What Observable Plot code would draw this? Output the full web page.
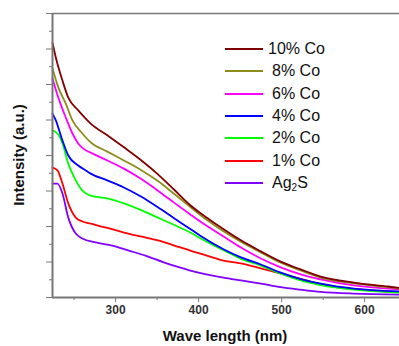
<!DOCTYPE html>
<html><head><meta charset="utf-8">
<script src="https://cdn.jsdelivr.net/npm/d3@7"></script>
<script src="https://cdn.jsdelivr.net/npm/@observablehq/plot@0.6"></script>
<style>
body{margin:0;background:#fff;font-family:"Liberation Sans",Arial,sans-serif;}
#wrap{position:relative;width:399px;height:346px;overflow:hidden;}
#wrap svg{position:absolute;left:0;top:0;}
.ttl{position:absolute;font-weight:bold;font-size:15px;color:#111;white-space:nowrap;}
#legend{position:absolute;left:225px;top:38px;}
.row{position:absolute;white-space:nowrap;font-size:16px;color:#111;}
.row svg{position:absolute;left:0;top:0;}
</style>
</head><body>
<div id="wrap"></div>
<script>
// Series names and colours
const seriesNames = ["10% Co", "8% Co", "6% Co", "4% Co", "2% Co", "1% Co", "Ag2S"];
const seriesColors = ["#800000", "#8c8c1a", "#ff00ff", "#0000ff", "#00ff00", "#ff0000", "#8000ff"];

// [wavelength (nm), intensity (a.u.)]
const co10 = [[224,7.18],[228,6.76],[236,6.11],[243,5.63],[255,5.27],[264,5.04],[270,4.90],[290,4.57],[310,4.23],[330,3.88],[351,3.47],[370,3.05],[390,2.60],[402,2.38],[427,1.97],[451,1.61],[475,1.30],[499,1.01],[523,0.79],[547,0.59],[587,0.42],[628,0.31],[642,0.27]];
const co8  = [[224,6.45],[231,5.92],[240,5.46],[248,4.99],[260,4.62],[270,4.37],[290,4.11],[310,3.86],[330,3.60],[351,3.28],[370,2.93],[390,2.55],[402,2.32],[427,1.91],[451,1.57],[475,1.27],[499,0.98],[523,0.76],[547,0.56],[587,0.40],[628,0.29],[642,0.25]];
const co6  = [[224,6.17],[231,5.63],[240,5.07],[248,4.62],[255,4.34],[262,4.18],[270,4.08],[290,3.86],[310,3.63],[330,3.35],[351,3.01],[370,2.68],[390,2.34],[402,2.14],[430,1.72],[451,1.41],[475,1.10],[499,0.85],[523,0.65],[547,0.51],[587,0.34],[642,0.23]];
const co4  = [[224,5.18],[228,4.99],[236,4.42],[243,4.00],[255,3.72],[264,3.58],[270,3.49],[290,3.30],[310,3.10],[330,2.85],[351,2.54],[370,2.24],[390,1.93],[402,1.74],[430,1.36],[451,1.13],[475,0.93],[499,0.70],[523,0.52],[547,0.39],[587,0.25],[642,0.17]];
const co2  = [[224,4.70],[230,4.62],[236,4.34],[243,3.77],[252,3.30],[260,3.01],[270,2.87],[290,2.79],[310,2.65],[330,2.47],[351,2.25],[370,2.05],[390,1.83],[402,1.67],[430,1.33],[451,1.09],[475,0.90],[499,0.67],[523,0.48],[547,0.35],[587,0.22],[642,0.14]];
const co1  = [[224,3.66],[230,3.58],[236,3.21],[243,2.65],[252,2.25],[260,2.14],[270,2.08],[290,1.96],[310,1.83],[330,1.72],[351,1.61],[370,1.47],[390,1.32],[410,1.18],[430,1.04],[451,0.96],[475,0.82],[499,0.68],[523,0.52],[547,0.38],[587,0.24],[642,0.15]];
const ag2s = [[224,3.21],[230,3.21],[236,2.93],[243,2.25],[252,1.80],[260,1.66],[276,1.55],[296,1.46],[316,1.32],[336,1.18],[358,0.99],[375,0.86],[390,0.76],[430,0.56],[451,0.48],[475,0.39],[499,0.29],[523,0.22],[547,0.16],[587,0.11],[642,0.08]];
const seriesData = [co10, co8, co6, co4, co2, co1, ag2s];

// Axis ticks
const xMajor = [300, 400, 500, 600];
const xMinor = [250, 350, 450, 550];
const yMajor = [0, 1, 2, 3, 4, 5, 6, 7, 8];
const yMinor = [0.5, 1.5, 2.5, 3.5, 4.5, 5.5, 6.5, 7.5];
const xDomain = [224, 642];
const yDomain = [0, 8];

const rows = [];
seriesData.forEach((arr, i) => arr.forEach(([x, y]) => rows.push({series: seriesNames[i], x, y})));

const axisColor = "#777";
const lineMarks = seriesNames.slice().reverse().map(name =>
  Plot.line(rows.filter(d => d.series === name), {x: "x", y: "y", stroke: seriesColors[seriesNames.indexOf(name)], strokeWidth: 1.8, curve: "monotone-x"})
);

const chart = Plot.plot({
  width: 399, height: 346,
  marginLeft: 52, marginTop: 13, marginRight: 0, marginBottom: 49,
  style: {fontFamily: "'Liberation Sans', Arial, sans-serif", background: "transparent"},
  x: {domain: xDomain},
  y: {domain: yDomain},
  marks: [
    ...lineMarks,
    Plot.axisX(xMajor, {tickSize: 5, tickPadding: 3, fontSize: 12, fontWeight: "bold", stroke: axisColor, fill: "#333", label: null}),
    Plot.axisX(xMinor, {tickSize: 3, tickFormat: () => "", stroke: axisColor, label: null}),
    Plot.axisY(yMajor, {tickSize: 6, tickFormat: () => "", stroke: axisColor, label: null}),
    Plot.axisY(yMinor, {tickSize: 3, tickFormat: () => "", stroke: axisColor, label: null}),
    Plot.ruleY([yDomain[0]], {stroke: axisColor, strokeWidth: 2}),
    Plot.ruleY([yDomain[1]], {stroke: axisColor, strokeWidth: 1.5}),
    Plot.ruleX([xDomain[0]], {stroke: axisColor, strokeWidth: 2})
  ]
});

const wrap = document.getElementById("wrap");
wrap.appendChild(chart);

// Axis titles
const xt = document.createElement("div");
xt.className = "ttl"; xt.textContent = "Wave length (nm)";
xt.style.left = "225px"; xt.style.top = "327px"; xt.style.transform = "translateX(-50%)";
wrap.appendChild(xt);
const yt = document.createElement("div");
yt.className = "ttl"; yt.textContent = "Intensity (a.u.)";
yt.style.left = "18px"; yt.style.top = "155px"; yt.style.transform = "translate(-50%,-50%) rotate(-90deg)";
wrap.appendChild(yt);

// Legend
const legend = document.createElement("div");
legend.id = "legend";
seriesNames.forEach((name, i) => {
  const r = document.createElement("div");
  r.className = "row";
  r.style.top = (i * 22.3) + "px";
  r.style.left = "0px";
  r.innerHTML = `<svg width="40" height="22"><line x1="0" x2="38" y1="11" y2="11" stroke="${seriesColors[i]}" stroke-width="2"/></svg>` +
    `<span style="position:absolute;left:${i === 0 ? 43 : 47}px;top:2px;">${name === "Ag2S" ? "Ag<sub style='font-size:10px;vertical-align:-3px;line-height:0'>2</sub>S" : name}</span>`;
  legend.appendChild(r);
});
wrap.appendChild(legend);
</script>
</body></html>
